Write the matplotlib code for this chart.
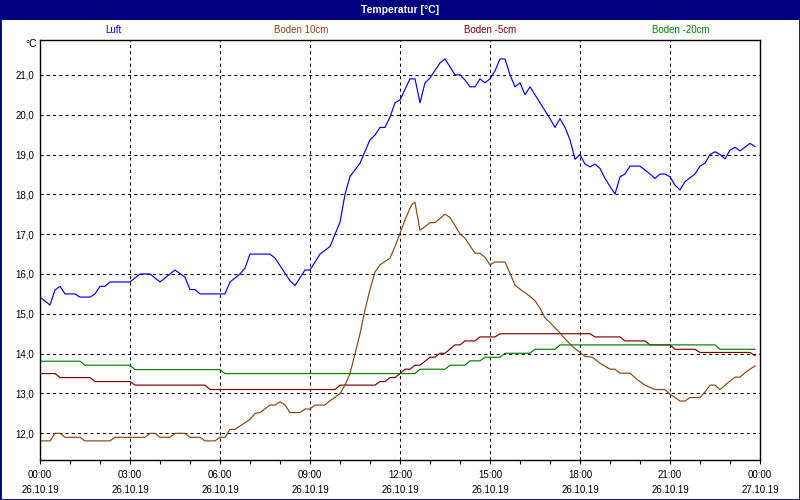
import matplotlib
matplotlib.use('Agg')
import matplotlib.pyplot as plt
from matplotlib.patches import Rectangle
from matplotlib.ticker import MultipleLocator

plt.rcParams['font.family'] = ['Liberation Sans', 'DejaVu Sans']

# Messwerte, Zeit in Minuten ab 26.10.19 00:00
luft_min = [0, 20, 30, 40, 50, 70, 80, 100, 110, 120, 130, 140, 180, 200, 220, 240,
            270, 290, 300, 310, 320, 370, 380, 400, 410, 420, 460, 470, 500, 510, 530,
            540, 560, 580, 600, 610, 620, 640, 660, 670, 680, 690, 700, 710, 720, 740,
            750, 760, 770, 780, 800, 810, 830, 840, 850, 860, 870, 880, 890, 900, 910,
            920, 930, 940, 950, 960, 970, 980, 1000, 1020, 1030, 1040, 1050, 1060, 1070,
            1080, 1090, 1100, 1110, 1120, 1130, 1140, 1150, 1160, 1170, 1180, 1200, 1220,
            1230, 1240, 1250, 1260, 1270, 1280, 1290, 1310, 1320, 1330, 1340, 1350, 1360,
            1370, 1380, 1390, 1400, 1420, 1430]
luft = [15.42, 15.22, 15.60, 15.69, 15.50, 15.50, 15.42, 15.42, 15.50, 15.69, 15.69,
        15.80, 15.80, 16.00, 16.00, 15.80, 16.10, 15.92, 15.61, 15.61, 15.50, 15.50,
        15.80, 16.00, 16.15, 16.50, 16.50, 16.40, 15.83, 15.71, 16.10, 16.10, 16.50,
        16.69, 17.30, 18.00, 18.45, 18.78, 19.37, 19.49, 19.68, 19.68, 19.94, 20.30,
        20.37, 20.90, 20.90, 20.30, 20.80, 20.92, 21.30, 21.40, 21.00, 21.00, 20.87,
        20.70, 20.70, 20.90, 20.80, 20.90, 21.10, 21.40, 21.40, 21.00, 20.70, 20.80,
        20.50, 20.70, 20.30, 19.90, 19.68, 19.90, 19.68, 19.37, 18.88, 19.00, 18.76,
        18.69, 18.76, 18.65, 18.40, 18.20, 18.01, 18.44, 18.51, 18.71, 18.71, 18.51,
        18.40, 18.51, 18.51, 18.44, 18.23, 18.11, 18.32, 18.51, 18.71, 18.78, 19.00,
        19.07, 19.00, 18.89, 19.11, 19.18, 19.09, 19.28, 19.20]

boden10_min = [0, 20, 30, 40, 50, 80, 90, 140, 150, 210, 220, 230, 240, 260, 270, 290,
               300, 320, 330, 350, 360, 370, 380, 390, 420, 430, 440, 460, 470, 480, 490,
               500, 520, 530, 540, 550, 570, 580, 590, 600, 610, 620, 630, 640, 650, 660,
               670, 680, 700, 710, 720, 730, 740, 745, 750, 755, 760, 770, 780, 790, 810,
               820, 840, 850, 870, 880, 890, 900, 910, 930, 940, 950, 960, 980, 990, 1000,
               1010, 1020, 1040, 1050, 1065, 1080, 1090, 1105, 1120, 1140, 1150, 1160,
               1180, 1195, 1210, 1230, 1250, 1260, 1270, 1280, 1290, 1300, 1320, 1330,
               1340, 1350, 1360, 1370, 1380, 1390, 1400, 1410, 1420, 1430]
boden10 = [11.81, 11.81, 12.00, 12.00, 11.90, 11.90, 11.81, 11.81, 11.90, 11.90, 12.00,
           12.00, 11.90, 11.90, 12.00, 12.00, 11.90, 11.90, 11.81, 11.81, 11.90, 11.90,
           12.10, 12.10, 12.35, 12.50, 12.52, 12.71, 12.71, 12.79, 12.71, 12.52, 12.52,
           12.61, 12.61, 12.71, 12.71, 12.82, 12.90, 13.00, 13.21, 13.50, 14.00, 14.50,
           15.10, 15.61, 16.05, 16.23, 16.40, 16.69, 17.02, 17.36, 17.65, 17.77, 17.80,
           17.44, 17.10, 17.19, 17.29, 17.29, 17.50, 17.42, 17.01, 16.90, 16.52, 16.52,
           16.42, 16.23, 16.30, 16.30, 16.02, 15.72, 15.62, 15.44, 15.33, 15.14, 14.90,
           14.78, 14.52, 14.37, 14.18, 14.03, 13.93, 13.91, 13.76, 13.61, 13.61, 13.51,
           13.51, 13.34, 13.21, 13.10, 13.10, 12.98, 12.90, 12.81, 12.81, 12.90, 12.90,
           13.04, 13.21, 13.21, 13.10, 13.21, 13.31, 13.41, 13.41, 13.52, 13.61, 13.69]

boden5_min = [0, 30, 40, 100, 110, 180, 190, 330, 340, 590, 600, 670, 680, 690, 700, 710,
              720, 730, 740, 750, 760, 780, 790, 800, 810, 830, 840, 850, 870, 880, 910,
              920, 1100, 1110, 1160, 1170, 1210, 1220, 1260, 1270, 1310, 1320, 1420, 1430]
boden5 = [13.50, 13.50, 13.40, 13.40, 13.30, 13.30, 13.21, 13.21, 13.10, 13.10, 13.21,
          13.21, 13.30, 13.30, 13.40, 13.40, 13.50, 13.61, 13.61, 13.71, 13.71, 13.91,
          13.91, 14.01, 14.01, 14.22, 14.22, 14.32, 14.32, 14.42, 14.42, 14.50, 14.50,
          14.42, 14.42, 14.32, 14.32, 14.22, 14.22, 14.11, 14.11, 14.03, 14.03, 13.95]

boden20_min = [0, 80, 90, 180, 190, 360, 370, 750, 760, 810, 820, 850, 860, 880, 890,
               920, 930, 980, 990, 1030, 1040, 1350, 1360, 1430]
boden20 = [13.81, 13.81, 13.71, 13.71, 13.60, 13.60, 13.50, 13.50, 13.61, 13.61, 13.71,
           13.71, 13.82, 13.82, 13.91, 13.91, 14.01, 14.01, 14.11, 14.11, 14.22, 14.22,
           14.11, 14.11]

tick_hours = [0, 3, 6, 9, 12, 15, 18, 21, 24]
tick_times = ['00:00', '03:00', '06:00', '09:00', '12:00', '15:00', '18:00', '21:00', '00:00']
tick_dates = ['26.10.19'] * 8 + ['27.10.19']
y_ticks = [12, 13, 14, 15, 16, 17, 18, 19, 20, 21]

series_names = ['Luft', 'Boden 10cm', 'Boden -5cm', 'Boden -20cm']
series_colors = ['#0000ff', '#8b4513', '#800000', '#008000']
navy = '#000080'

fig = plt.figure(figsize=(8, 5), dpi=100)
fig.patch.set_facecolor('white')
ax = fig.add_axes([0.05, 0.08, 0.9, 0.84])

def hours(mins):
    return [m / 60 for m in mins]

ax.plot(hours(boden5_min), boden5, color=series_colors[2], lw=0.85)
ax.plot(hours(boden20_min), boden20, color=series_colors[3], lw=0.85)
ax.plot(hours(boden10_min), boden10, color=series_colors[1], lw=0.85)
ax.plot(hours(luft_min), luft, color=series_colors[0], lw=0.85)

ax.set_xlim(0, 24)
ax.set_ylim(11.33, 21.875)

ax.set_xticks(tick_hours)
ax.set_xticklabels([t + '\n' + d for t, d in zip(tick_times, tick_dates)],
                   fontsize=7, linespacing=1.6)
ax.xaxis.set_minor_locator(MultipleLocator(1))
ax.tick_params(axis='x', which='both', direction='out', length=3, width=0.8, pad=4.5)

ax.set_yticks(y_ticks)
ax.set_yticklabels([f'{v:.1f}'.replace('.', ',') for v in y_ticks], fontsize=7)
ax.tick_params(axis='y', length=0, pad=4)

ax.grid(True, which='major', color='black', linestyle=(0, (3, 3)), linewidth=0.75)
for sp in ax.spines.values():
    sp.set_linewidth(1.0)
    sp.set_color('black')

# Titelleiste und Rahmen
fig.add_artist(Rectangle((0, 1 - 20 / 500), 1, 20 / 500, transform=fig.transFigure,
                         facecolor=navy, edgecolor='none'))
fig.add_artist(Rectangle((0, 0), 1, 1, transform=fig.transFigure, fill=False,
                         edgecolor=navy, lw=2))
fig.text(0.5, 1 - 10 / 500, 'Temperatur [°C]', color='white', fontsize=7.5,
         fontweight='bold', ha='center', va='center')

legend_x = [113, 301, 490, 681]
for name, col, lx in zip(series_names, series_colors, legend_x):
    fig.text(lx / 800, 1 - 30 / 500, name, color=col, fontsize=7, ha='center', va='center')

fig.text(37 / 800, 1 - 44 / 500, '°C', fontsize=7.5, ha='right', va='center')

plt.savefig('out.png', dpi=100)
plt.close()
